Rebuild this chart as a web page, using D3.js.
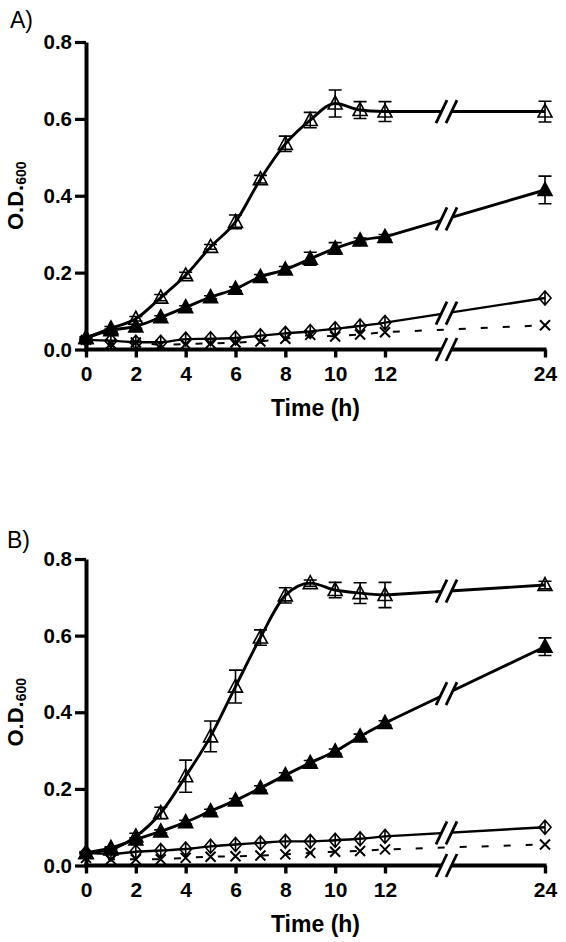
<!DOCTYPE html>
<html>
<head>
<meta charset="utf-8">
<script src="https://cdn.jsdelivr.net/npm/d3@7"></script>
<style>
  html, body { margin: 0; padding: 0; background: #fff; }
  svg { display: block; }
</style>
</head>
<body>
<svg id="chart" width="566" height="942"></svg>
<script>
// ---------------- data ----------------
const hours = [0, 1, 2, 3, 4, 5, 6, 7, 8, 9, 10, 11, 12, 24];
const xTickValues = [0, 2, 4, 6, 8, 10, 12, 24];
const yTickValues = [0, 0.2, 0.4, 0.6, 0.8];

// Panel A
const aOpenTri      = [0.030, 0.055, 0.080, 0.135, 0.193, 0.267, 0.332, 0.443, 0.535, 0.597, 0.640, 0.623, 0.619, 0.619];
const aOpenTriErr   = [0.003, 0.005, 0.006, 0.008, 0.008, 0.006, 0.018, 0.010, 0.020, 0.020, 0.035, 0.022, 0.026, 0.027];
const aFilledTri    = [0.030, 0.050, 0.060, 0.084, 0.110, 0.136, 0.158, 0.189, 0.208, 0.236, 0.263, 0.284, 0.293, 0.415];
const aFilledTriErr = [0.002, 0.003, 0.005, 0.004, 0.004, 0.004, 0.005, 0.006, 0.008, 0.017, 0.015, 0.006, 0.006, 0.036];
const aDiamond      = [0.025, 0.023, 0.019, 0.019, 0.027, 0.028, 0.030, 0.036, 0.042, 0.047, 0.054, 0.061, 0.070, 0.134];
const aCross        = [0.025, 0.015, 0.018, 0.012, 0.014, 0.016, 0.018, 0.021, 0.028, 0.038, 0.034, 0.039, 0.045, 0.063];

// Panel B
const bOpenTri      = [0.033, 0.042, 0.076, 0.137, 0.233, 0.337, 0.467, 0.595, 0.705, 0.737, 0.719, 0.711, 0.706, 0.732];
const bOpenTriErr   = [0.003, 0.004, 0.008, 0.015, 0.042, 0.040, 0.043, 0.020, 0.020, 0.008, 0.020, 0.027, 0.033, 0.010];
const bFilledTri    = [0.033, 0.046, 0.068, 0.089, 0.113, 0.142, 0.170, 0.202, 0.236, 0.268, 0.298, 0.337, 0.372, 0.571];
const bFilledTriErr = [0.002, 0.003, 0.004, 0.004, 0.005, 0.005, 0.005, 0.006, 0.006, 0.006, 0.006, 0.006, 0.006, 0.023];
const bDiamond      = [0.033, 0.030, 0.036, 0.039, 0.043, 0.050, 0.055, 0.059, 0.063, 0.063, 0.066, 0.070, 0.076, 0.100];
const bCross        = [0.020, 0.016, 0.016, 0.016, 0.020, 0.023, 0.024, 0.026, 0.029, 0.033, 0.036, 0.038, 0.042, 0.055];

// ---------------- layout ----------------
const FONT = "'Liberation Sans', Arial, Helvetica, sans-serif";
const svg = d3.select('#chart');

const x = d3.scaleLinear().domain([0, 12, 24]).range([86, 385, 545]);
const breakX = 446.5;

const panels = [
  { label: 'A)', lx: 10, ly: 28, range: [349.5, 42],
    series: [
      { v: aDiamond,   err: null,          type: 'diamond', w: 2.4 },
      { v: aCross,     err: null,          type: 'cross',   w: 2, dashed: true },
      { v: aFilledTri, err: aFilledTriErr, type: 'filled',  w: 2.9 },
      { v: aOpenTri,   err: aOpenTriErr,   type: 'open',    w: 2.9 }
    ] },
  { label: 'B)', lx: 7, ly: 548, range: [865.5, 559],
    series: [
      { v: bDiamond,   err: null,          type: 'diamond', w: 2.4 },
      { v: bCross,     err: null,          type: 'cross',   w: 2, dashed: true },
      { v: bFilledTri, err: bFilledTriErr, type: 'filled',  w: 2.9 },
      { v: bOpenTri,   err: bOpenTriErr,   type: 'open',    w: 2.9 }
    ] }
];

const markerPath = {
  open:    'M0,-7.5L7,5.5L-7,5.5Z',
  filled:  'M0,-7.5L7,5.5L-7,5.5Z',
  diamond: 'M0,-7L6,0L0,7L-6,0ZM0,-7V7',
  cross:   'M-5,-5L5,5M5,-5L-5,5'
};

function drawBreak(g, yc) {
  const h = 10.5, d = 10;
  g.append('path')
    .attr('d', `M${breakX - d / 2 - 5},${yc + h}L${breakX - d / 2 + 5},${yc - h}L${breakX + d / 2 + 5},${yc - h}L${breakX + d / 2 - 5},${yc + h}Z`)
    .attr('fill', '#fff').attr('stroke', 'none');
  [breakX - d / 2, breakX + d / 2].forEach(c => {
    g.append('line')
      .attr('x1', c - 5.5).attr('y1', yc + h + 1)
      .attr('x2', c + 5.5).attr('y2', yc - h - 1)
      .attr('stroke', '#000').attr('stroke-width', 2.8);
  });
}

panels.forEach(p => {
  const y = d3.scaleLinear().domain([0, 0.8]).range(p.range);
  const g = svg.append('g');

  // panel letter
  g.append('text').attr('x', p.lx).attr('y', p.ly)
    .attr('font-family', FONT).attr('font-size', 23).attr('fill', '#000')
    .text(p.label);

  // series lines
  const lineGen = d3.line().x((d) => x(d[0])).y((d) => y(d[1]));
  const curveGen = d3.line().x((d) => x(d[0])).y((d) => y(d[1])).curve(d3.curveMonotoneX);

  p.series.forEach(s => {
    const pts = hours.map((h, i) => [h, s.v[i]]);
    let dStr;
    if (s.dashed) {
      dStr = lineGen(pts);
    } else {
      const early = pts.filter(q => q[0] <= 12);
      const last = pts[pts.length - 1];
      dStr = curveGen(early) + `L${x(last[0])},${y(last[1])}`;
    }
    g.append('path').attr('d', dStr)
      .attr('fill', 'none').attr('stroke', '#000')
      .attr('stroke-width', s.w)
      .attr('stroke-linejoin', 'round')
      .attr('stroke-dasharray', s.dashed ? '7,15' : null);
  });

  // axes
  const gx = g.append('g').attr('transform', `translate(0,${y(0)})`)
    .call(d3.axisBottom(x).tickValues(xTickValues).tickSize(8).tickSizeOuter(0).tickPadding(9).tickFormat(d3.format('d')));
  gx.select('.domain').attr('stroke-width', 3.8).attr('d', `M84,0H${x(24) + 1.5}`);
  gx.selectAll('.tick line').attr('stroke-width', 3.4);
  gx.selectAll('.tick text').attr('font-family', FONT).attr('font-size', 21).attr('font-weight', 'bold').attr('fill', '#000');

  const gy = g.append('g').attr('transform', 'translate(86,0)')
    .call(d3.axisLeft(y).tickValues(yTickValues).tickSize(11).tickSizeOuter(0).tickPadding(3).tickFormat(d3.format('.1f')));
  gy.select('.domain').attr('stroke-width', 4);
  gy.selectAll('.tick line').attr('stroke-width', 3.2);
  gy.selectAll('.tick text').attr('font-family', FONT).attr('font-size', 20.5).attr('font-weight', 'bold').attr('fill', '#000');

  // axis break
  drawBreak(g, y(0));

  // data line breaks (solid series cross the gap between 12 and 24 h)
  p.series.filter(s => !s.dashed).forEach(s => {
    const i12 = hours.indexOf(12), i24 = hours.indexOf(24);
    const y12 = y(s.v[i12]), y24 = y(s.v[i24]);
    const t = (breakX - x(12)) / (x(24) - x(12));
    drawBreak(g, y12 + (y24 - y12) * t);
  });

  // error bars
  p.series.filter(s => s.err).forEach(s => {
    hours.forEach((h, i) => {
      const cx = x(h), top = y(s.v[i] + s.err[i]), bot = y(s.v[i] - s.err[i]);
      g.append('path')
        .attr('d', `M${cx},${top}V${bot}M${cx - 6.5},${top}H${cx + 6.5}M${cx - 6.5},${bot}H${cx + 6.5}`)
        .attr('fill', 'none').attr('stroke', '#000').attr('stroke-width', 1.6);
    });
  });

  // markers
  p.series.forEach(s => {
    g.append('g').selectAll('path').data(hours.map((h, i) => [h, s.v[i]])).join('path')
      .attr('transform', d => `translate(${x(d[0])},${y(d[1])})`)
      .attr('d', markerPath[s.type])
      .attr('fill', s.type === 'filled' ? '#000' : 'none')
      .attr('stroke', '#000')
      .attr('stroke-width', s.type === 'cross' ? 2 : 1.6)
      .attr('stroke-linejoin', 'miter');
  });

  // axis titles
  const yMid = (p.range[0] + p.range[1]) / 2;
  const yl = g.append('text')
    .attr('transform', `translate(23,${yMid}) rotate(-90)`)
    .attr('text-anchor', 'middle')
    .attr('font-family', FONT).attr('font-weight', 'bold').attr('font-size', 22).attr('fill', '#000');
  yl.append('tspan').text('O.D.');
  yl.append('tspan').attr('font-size', 14).attr('dy', 3).text('600');

  g.append('text')
    .attr('x', (x(0) + x(24)) / 2).attr('y', y(0) + 66)
    .attr('text-anchor', 'middle')
    .attr('font-family', FONT).attr('font-weight', 'bold').attr('font-size', 23).attr('fill', '#000')
    .text('Time (h)');
});
</script>
</body>
</html>
